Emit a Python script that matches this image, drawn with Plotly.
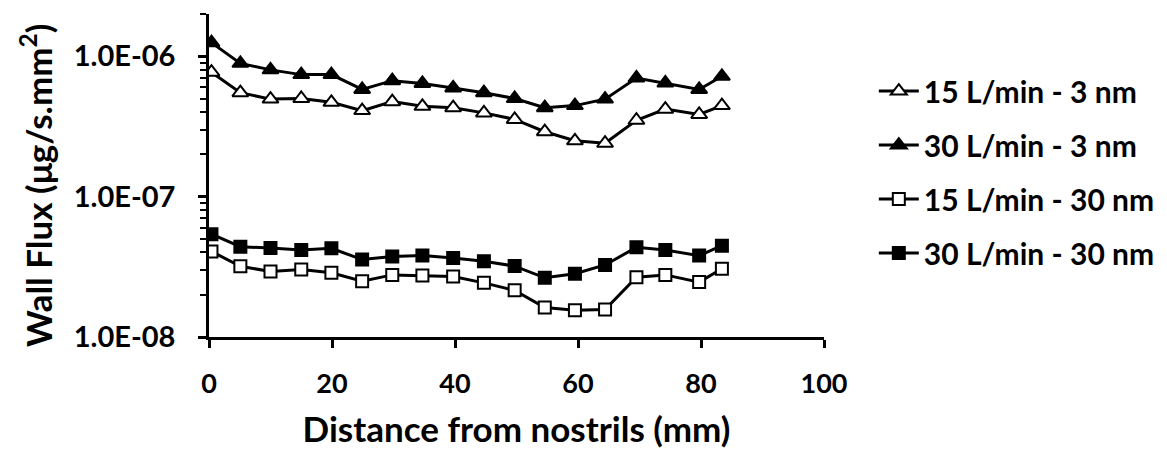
import plotly.graph_objects as go

x_mm = [0.4, 5.1, 10, 15, 19.9, 24.9, 29.8, 34.7, 39.7, 44.7, 49.7, 54.6, 59.5, 64.4, 69.5, 74.2, 79.7, 83.4]

flux_15_3 = [7.7e-7, 5.5e-7, 4.95e-7, 5.0e-7, 4.7e-7, 4.1e-7, 4.75e-7, 4.4e-7, 4.3e-7, 3.95e-7,
             3.55e-7, 2.9e-7, 2.5e-7, 2.4e-7, 3.5e-7, 4.2e-7, 3.85e-7, 4.45e-7]
flux_30_3 = [1.25e-6, 8.9e-7, 8.0e-7, 7.4e-7, 7.4e-7, 5.8e-7, 6.7e-7, 6.4e-7, 5.95e-7, 5.5e-7,
             5.0e-7, 4.3e-7, 4.45e-7, 4.95e-7, 7.0e-7, 6.45e-7, 5.8e-7, 7.2e-7]
flux_15_30 = [4.07e-8, 3.19e-8, 2.93e-8, 3.02e-8, 2.87e-8, 2.5e-8, 2.77e-8, 2.74e-8, 2.7e-8, 2.43e-8,
              2.15e-8, 1.62e-8, 1.55e-8, 1.57e-8, 2.67e-8, 2.77e-8, 2.46e-8, 3.06e-8]
flux_30_30 = [5.4e-8, 4.4e-8, 4.3e-8, 4.17e-8, 4.28e-8, 3.56e-8, 3.75e-8, 3.8e-8, 3.66e-8, 3.46e-8,
              3.2e-8, 2.64e-8, 2.82e-8, 3.26e-8, 4.35e-8, 4.17e-8, 3.8e-8, 4.47e-8]

series_names = ["15 L/min - 3 nm", "30 L/min - 3 nm", "15 L/min - 30 nm", "30 L/min - 30 nm"]

y_tickvals = [1e-8, 1e-7, 1e-6]
y_ticktext = ["1.0E-08", "1.0E-07", "1.0E-06"]
x_tickvals = [0, 20, 40, 60, 80, 100]

FONT = "Lato"

fig = go.Figure()
specs = [
    (flux_15_3, "triangle-up", "white", 14),
    (flux_30_3, "triangle-up", "black", 14),
    (flux_15_30, "square", "white", 12),
    (flux_30_30, "square", "black", 12),
]
for name, (vals, sym, fill, sz) in zip(series_names, specs):
    fig.add_trace(go.Scatter(
        x=x_mm, y=vals, name=name, mode="lines+markers", legendgroup=name,
        line=dict(color="black", width=3),
        marker=dict(symbol=sym, size=sz, color=fill, line=dict(color="black", width=2)),
    ))

fig.update_layout(
    width=1159, height=441,
    margin=dict(l=201, r=343, t=6, b=112, autoexpand=False),
    paper_bgcolor="white", plot_bgcolor="white",
    font=dict(family=FONT, color="black", size=24, weight="bold"),
    showlegend=True,
    legend=dict(
        x=1.081, xanchor="left", y=0.842, yanchor="top",
        font=dict(family=FONT, size=30, color="black", weight="bold"),
        traceorder="grouped", tracegroupgap=12,
        bgcolor="rgba(0,0,0,0)", itemwidth=40,
    ),
    annotations=[dict(
        text="Wall Flux (μg/s.mm<sup>2</sup>)", textangle=-90,
        xref="paper", yref="paper", x=-0.2813, y=0.4675,
        xanchor="center", yanchor="middle", showarrow=False,
        font=dict(family=FONT, size=35, color="black", weight="bold"),
    )],
)

fig.update_xaxes(
    range=[0, 100], tickvals=x_tickvals, automargin=False,
    showline=True, linecolor="black", linewidth=2.5,
    ticks="outside", ticklen=8, tickwidth=2.5, tickcolor="black",
    showgrid=False, zeroline=False,
    ticklabelstandoff=13,
    tickfont=dict(family=FONT, size=27, weight="bold"),
    title=dict(text="Distance from nostrils (mm)", standoff=20,
               font=dict(family=FONT, size=35, weight="bold")),
)
fig.update_yaxes(
    type="log", range=[-8, -5.699], automargin=False,
    tickvals=y_tickvals, ticktext=y_ticktext,
    showline=True, linecolor="black", linewidth=2.5,
    ticks="outside", ticklen=8, tickwidth=2.5, tickcolor="black",
    minor=dict(ticks="outside", ticklen=6, tickwidth=2, tickcolor="black", dtick="D1", showgrid=False),
    showgrid=False, zeroline=False,
    ticklabelstandoff=17,
    tickfont=dict(family=FONT, size=29, weight="bold"),
)

fig.write_html("out.html")
